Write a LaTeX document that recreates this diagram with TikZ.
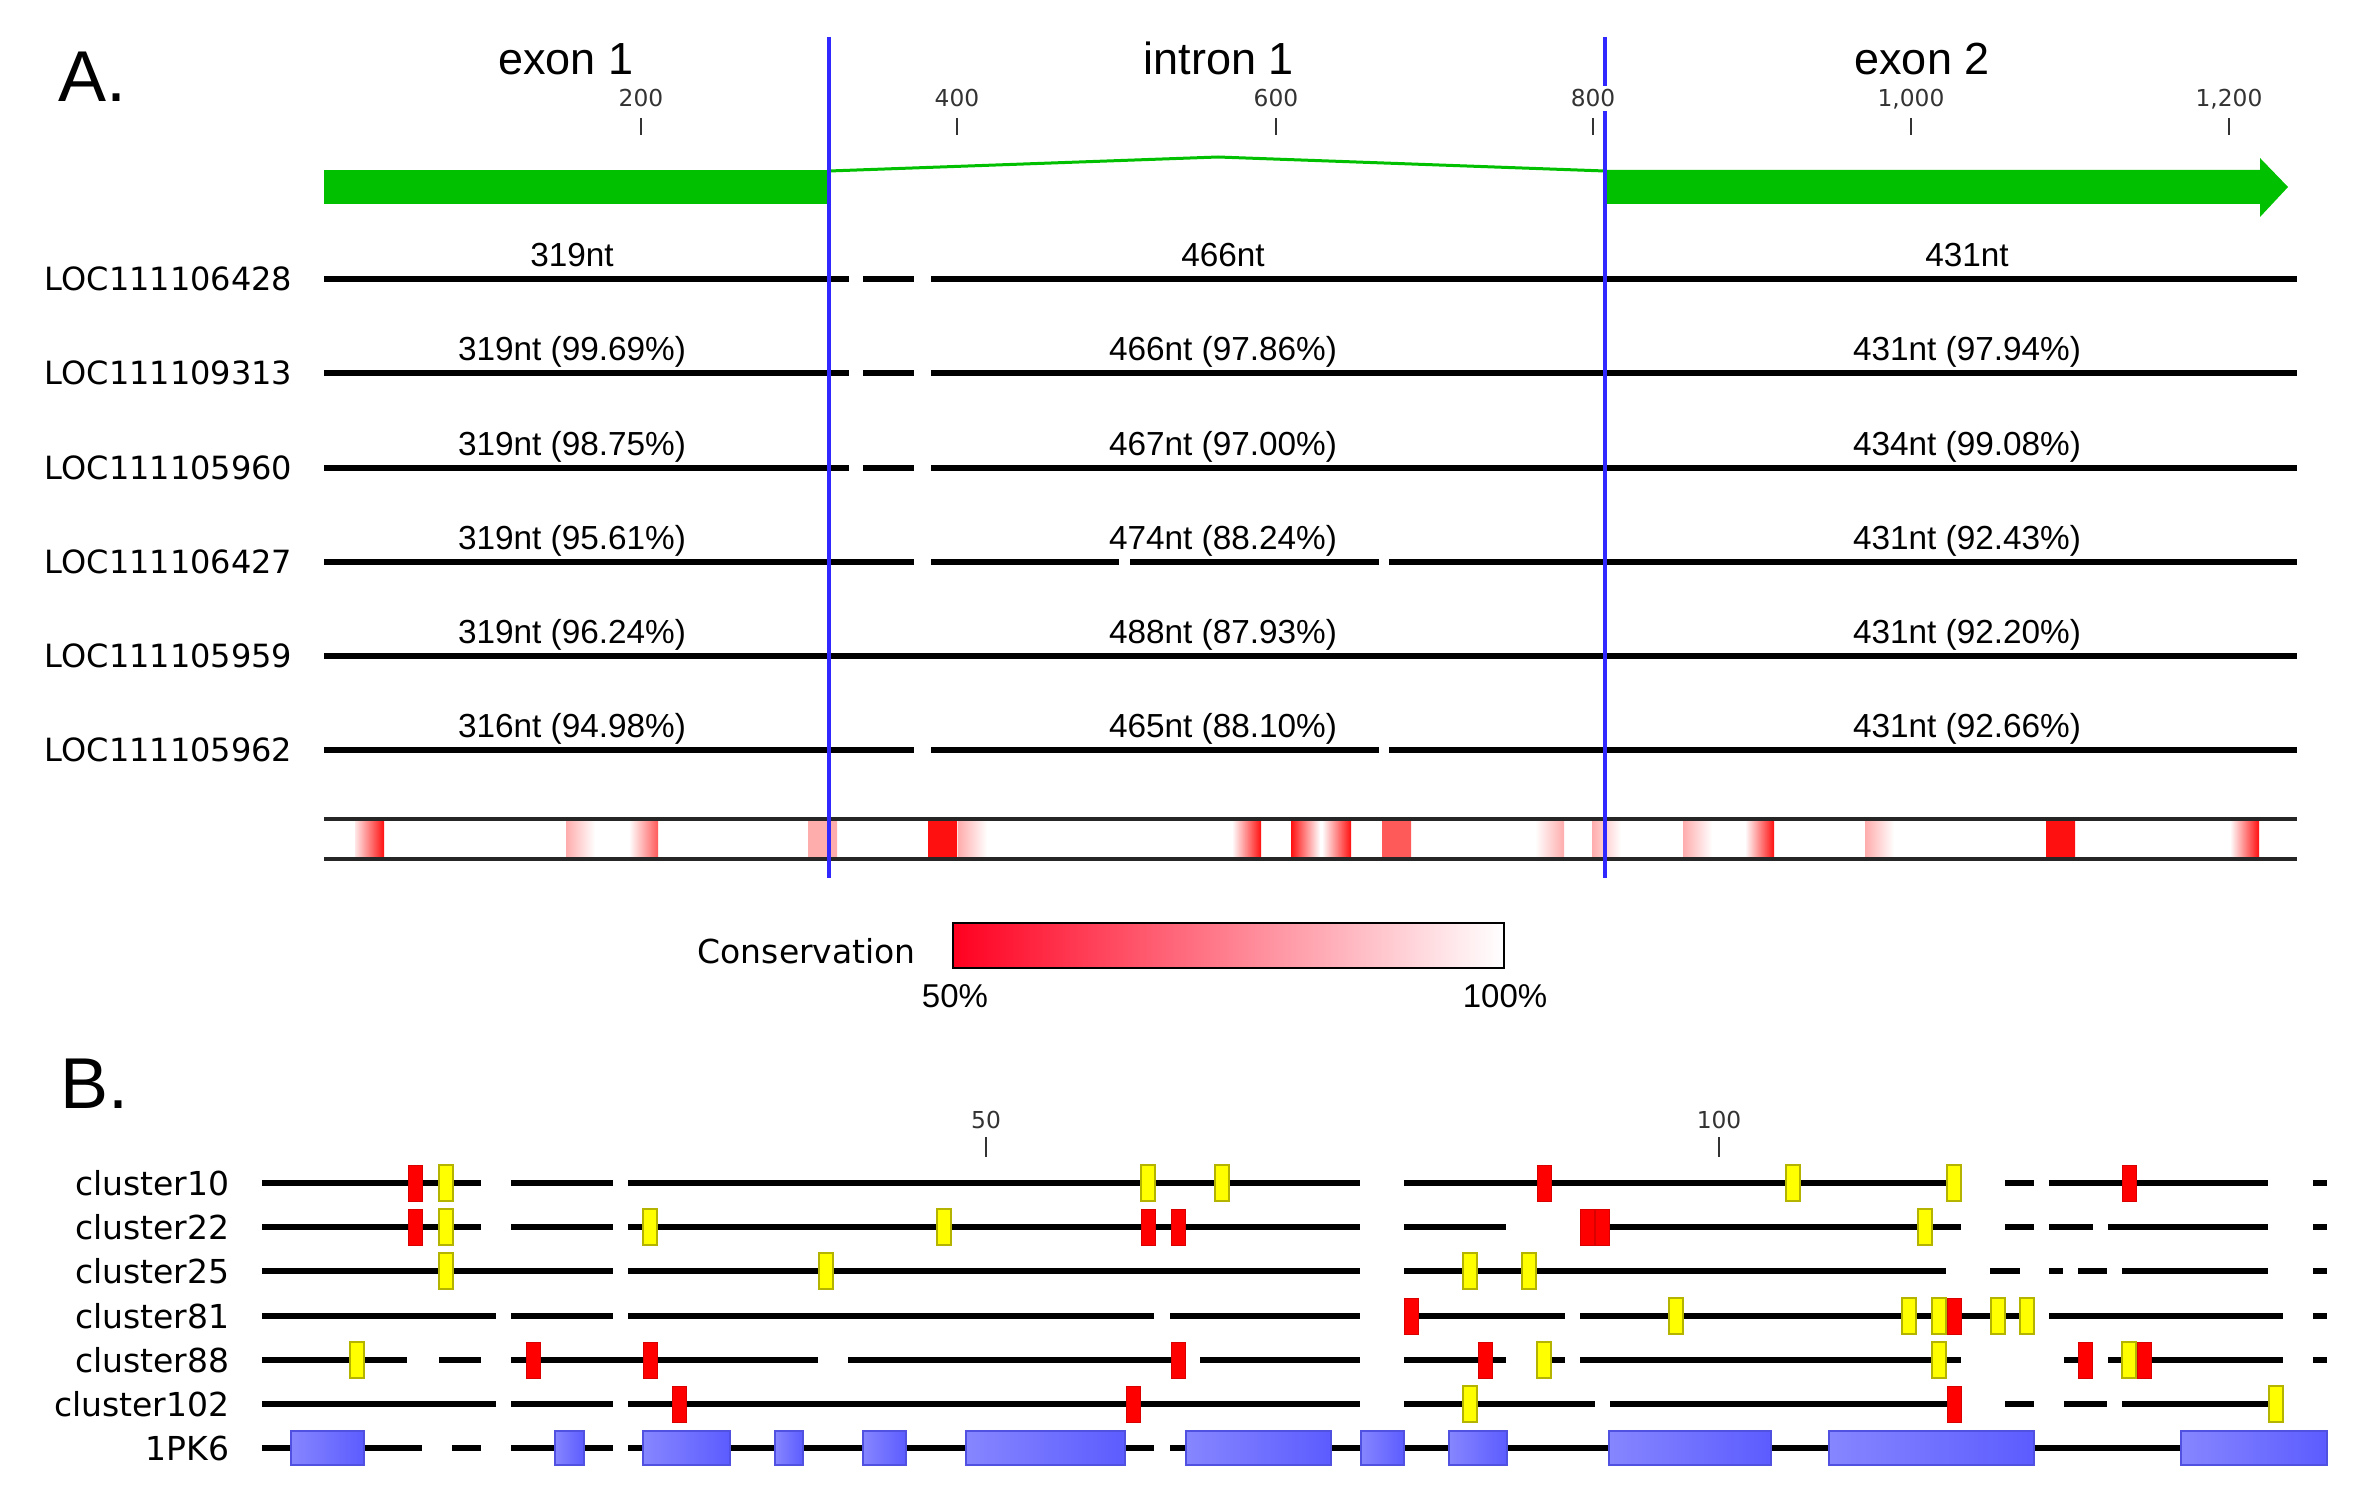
\documentclass[tikz,border=0pt]{standalone}
\usepackage{fontspec}
\setmainfont{Liberation Sans}
\newfontfamily\dvs{DejaVu Sans}
\definecolor{exgreen}{RGB}{0,192,0}
\definecolor{vblue}{RGB}{48,40,255}
\definecolor{mkred}{RGB}{255,0,0}
\definecolor{mkyel}{RGB}{255,255,0}
\definecolor{mkolive}{RGB}{180,180,0}
\definecolor{pbl}{RGB}{134,134,255}
\definecolor{pbr}{RGB}{92,92,255}
\definecolor{pbd}{RGB}{80,80,225}
\definecolor{cred}{RGB}{255,16,16}
\definecolor{cmid}{RGB}{255,90,90}
\definecolor{cpink}{RGB}{255,172,172}
\definecolor{legred}{RGB}{255,0,32}
\begin{document}
\begin{tikzpicture}[x=0.3pt,y=-0.3pt,
  trk/.style={line width=1.7pt,black},
  trkb/.style={line width=1.7pt,black},
  ttl/.style={font=\fontsize{13.5}{16}\selectfont,anchor=base,inner sep=0pt},
  ntlab/.style={font=\fontsize{10}{12}\selectfont,anchor=base,inner sep=0pt},
  loclab/.style={font=\dvs\fontsize{9.6}{11}\selectfont,anchor=east,inner sep=0pt},
  clulab/.style={font=\dvs\fontsize{9.9}{11}\selectfont,anchor=east,inner sep=0pt},
  ticklab/.style={font=\dvs\fontsize{7}{8}\selectfont,anchor=base,inner sep=1pt,fill=white,text=black!80},
  tickmk/.style={line width=0.6pt,black!80},
  panel/.style={font=\fontsize{21.6}{24}\selectfont,anchor=base west,inner sep=0pt},
  vline/.style={line width=1.35pt,vblue},
  redmk/.style={fill=mkred,draw=mkred!85!black,line width=0.3pt},
  yelmk/.style={fill=mkyel,draw=mkolive,line width=0.6pt},
  pbox/.style={left color=pbl,right color=pbr,draw=pbd,line width=0.5pt},
  consline/.style={line width=1pt,black!85},
  pct/.style={font=\fontsize{9.9}{11}\selectfont,anchor=base,inner sep=0pt},
  leglab/.style={font=\dvs\fontsize{9.9}{11}\selectfont,anchor=base west,inner sep=0pt}
]
\useasboundingbox (0,0) rectangle (2370,1502);

% ---------------- Panel A ----------------
\node[panel] (pA) at (58,102) {A.};
\node[ttl] (exon1) at (566,75) {exon 1};
\node[ttl] (intron1) at (1219,75) {intron 1};
\node[ttl] (exon2) at (1922,75) {exon 2};

% gene model
\fill[exgreen] (324,170) rectangle (829,204);
\fill[exgreen] (1605,170) -- (2260,170) -- (2260,158) -- (2288,187) -- (2260,217) -- (2260,204) -- (1605,204) -- cycle;
\coordinate (ia) at (829,171);
\coordinate (ib) at (1218,157);
\coordinate (ic) at (1605,171);
\draw[exgreen,line width=0.9pt] (ia) -- (ib) -- (ic);

% tracks
\foreach \yy/\segs in {279/{324/849,863/914,931/2297},373/{324/849,863/914,931/2297},468/{324/849,863/914,931/2297},562/{324/914,931/1119,1130/1379,1389/2297},656/{324/2297},750/{324/914,931/1379,1389/2297}}{
  \foreach \p/\q in \segs \draw[trk] (\p,\yy) -- (\q,\yy);
}
\foreach \i/\yy/\lname/\txa/\txb/\txc in {
 1/279/LOC111106428/319nt/466nt/431nt,
 2/373/LOC111109313/{319nt (99.69\%)}/{466nt (97.86\%)}/{431nt (97.94\%)},
 3/468/LOC111105960/{319nt (98.75\%)}/{467nt (97.00\%)}/{434nt (99.08\%)},
 4/562/LOC111106427/{319nt (95.61\%)}/{474nt (88.24\%)}/{431nt (92.43\%)},
 5/656/LOC111105959/{319nt (96.24\%)}/{488nt (87.93\%)}/{431nt (92.20\%)},
 6/750/LOC111105962/{316nt (94.98\%)}/{465nt (88.10\%)}/{431nt (92.66\%)}}{
  \node[loclab] (loc\i) at (293,\yy) {\lname};
  \node[ntlab] (ea\i) at (572,\yy-13) {\txa};
  \node[ntlab] (eb\i) at (1223,\yy-13) {\txb};
  \node[ntlab] (ec\i) at (1967,\yy-13) {\txc};
}

% conservation track
\foreach \p/\lc/\rc in {355/cred!10/cred,566/cpink/white,629/white/cmid,808/cpink/cpink,928/cred/cred,958/cpink/white,1232/white/cred,1291/cred/white,1322/white/cred,1382/cmid/cmid,1535/white/cpink,1592/cpink/white,1683/cpink/white,1745/white/cred,1865/cpink/white,2046/cred/cred,2230/white/cred}
  \path[left color=\lc,right color=\rc] (\p,821) rectangle ++(29,36);
\draw[consline] (324,819) -- (2297,819);
\draw[consline] (324,859) -- (2297,859);

% boundaries
\coordinate (v1t) at (829,37);  \coordinate (v1b) at (829,878);
\coordinate (v2t) at (1605,37); \coordinate (v2b) at (1605,878);
\draw[vline] (v1t) -- (v1b);
\draw[vline] (v2t) -- (v2b);

% ruler A
\foreach \v/\xx in {200/641,400/957,600/1276,800/1593,{1,000}/1911,{1,200}/2229}{
  \node[ticklab] (ta\xx) at (\xx,107) {\v};
  \draw[tickmk] (\xx,118) -- (\xx,135);
}

% legend
\node[leglab] (cons) at (697,963) {Conservation};
\draw[line width=0.6pt,left color=legred,right color=white] (953,923) rectangle (1504,968);
\node[pct] (p50) at (955,1007) {50\%};
\node[pct] (p100) at (1505,1007) {100\%};

% ---------------- Panel B ----------------
\node[panel] (pB) at (60,1108) {B.};
\node[ticklab] (t50) at (986,1128) {50};
\draw[tickmk] (986,1137) -- (986,1157);
\node[ticklab] (t100) at (1719,1128) {100};
\draw[tickmk] (1719,1137) -- (1719,1157);

% cluster10
\node[clulab] (c10) at (230,1183) {cluster10};
\foreach \p/\q in {262/481,511/613,628/1360,1404/1961,2005/2034,2049/2268,2313/2327} \draw[trkb] (\p,1183) -- (\q,1183);
\foreach \xx in {408,1537,2122} \draw[redmk] (\xx,1165) rectangle ++(14,36);
\foreach \xx in {439,1141,1215,1786,1947} \draw[yelmk] (\xx,1165) rectangle ++(14,36);

% cluster22
\node[clulab] (c22) at (230,1227) {cluster22};
\foreach \p/\q in {262/481,511/613,628/1360,1404/1506,1580/1961,2005/2034,2049/2093,2108/2268,2313/2327} \draw[trkb] (\p,1227) -- (\q,1227);
\foreach \xx in {408,1141,1171,1580,1595} \draw[redmk] (\xx,1209) rectangle ++(14,36);
\foreach \xx in {439,643,937,1918} \draw[yelmk] (\xx,1209) rectangle ++(14,36);

% cluster25
\node[clulab] (c25) at (230,1271) {cluster25};
\foreach \p/\q in {262/613,628/1360,1404/1946,1990/2020,2049/2063,2078/2107,2122/2268,2313/2327} \draw[trkb] (\p,1271) -- (\q,1271);
\foreach \xx in {439,819,1463,1522} \draw[yelmk] (\xx,1253) rectangle ++(14,36);

% cluster81
\node[clulab] (c81) at (230,1316) {cluster81};
\foreach \p/\q in {262/496,511/613,628/1154,1170/1360,1404/1565,1580/2034,2049/2283,2313/2327} \draw[trkb] (\p,1316) -- (\q,1316);
\foreach \xx in {1669,1902,1932,1991,2020} \draw[yelmk] (\xx,1298) rectangle ++(14,36);
\foreach \xx in {1404,1947} \draw[redmk] (\xx,1298) rectangle ++(14,36);

% cluster88
\node[clulab] (c88) at (230,1360) {cluster88};
\foreach \p/\q in {262/407,439/481,511/818,848/1185,1200/1360,1404/1506,1537/1565,1580/1961,2064/2093,2108/2283,2313/2327} \draw[trkb] (\p,1360) -- (\q,1360);
\foreach \xx in {350,1537,1932,2122} \draw[yelmk] (\xx,1342) rectangle ++(14,36);
\foreach \xx in {526,643,1171,1478,2078,2137} \draw[redmk] (\xx,1342) rectangle ++(14,36);

% cluster102
\node[clulab] (c102) at (230,1404) {cluster102};
\foreach \p/\q in {262/496,511/613,628/1360,1404/1595,1610/1961,2005/2034,2064/2107,2122/2283} \draw[trkb] (\p,1404) -- (\q,1404);
\foreach \xx in {672,1126,1947} \draw[redmk] (\xx,1386) rectangle ++(14,36);
\foreach \xx in {1463,2269} \draw[yelmk] (\xx,1386) rectangle ++(14,36);

% 1PK6
\node[clulab] (pk6) at (230,1448) {1PK6};
\foreach \p/\q in {262/422,452/481,511/613,628/1154,1170/2327} \draw[trkb] (\p,1448) -- (\q,1448);
\foreach \p/\q in {291/364,555/584,643/730,775/803,863/906,966/1125,1186/1331,1361/1404,1449/1507,1609/1771,1829/2034,2181/2327} \draw[pbox] (\p,1431) rectangle (\q,1465);
\end{tikzpicture}
\end{document}
